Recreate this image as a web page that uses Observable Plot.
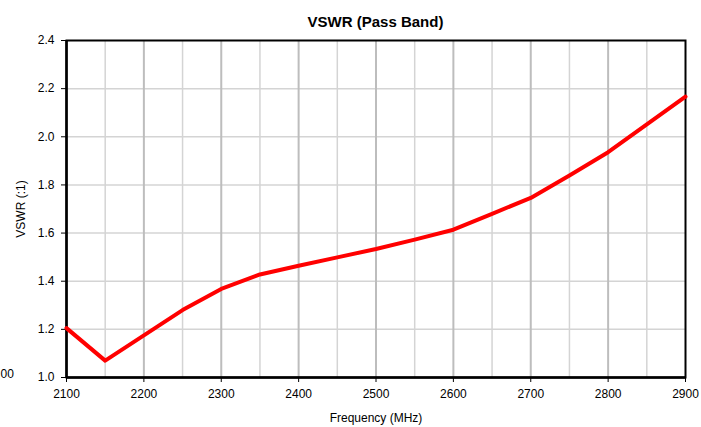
<!DOCTYPE html>
<html>
<head>
<meta charset="utf-8">
<script src="https://cdn.jsdelivr.net/npm/d3@7"></script>
<script src="https://cdn.jsdelivr.net/npm/@observablehq/plot@0.6"></script>
<style>
  html, body { margin: 0; padding: 0; background: #fff; }
  #title { box-sizing: border-box; height: 32px; padding-left: 66px; width: 685px; text-align: center;
           font: bold 15px "Liberation Sans", Arial, sans-serif; line-height: 44px; color: #000; overflow: visible; }
  svg { display: block; }
</style>
</head>
<body>
<div id="title">VSWR (Pass Band)</div>
<div id="chart"></div>
<script>
const freq = [2100, 2150, 2200, 2250, 2300, 2350, 2400, 2450, 2500, 2550, 2600, 2650, 2700, 2750, 2800, 2850, 2900];
const vswr = [1.205, 1.07, 1.175, 1.28, 1.368, 1.428, 1.464, 1.499, 1.534, 1.573, 1.614, 1.68, 1.746, 1.839, 1.936, 2.052, 2.167];
const xTicks = [2100, 2200, 2300, 2400, 2500, 2600, 2700, 2800, 2900];
const xMinor = [2150, 2250, 2350, 2450, 2550, 2650, 2750, 2850];
const yTicks = [1.0, 1.2, 1.4, 1.6, 1.8, 2.0, 2.2, 2.4];

const data = freq.map((f, i) => ({f, v: vswr[i]}));

const chart = Plot.plot({
  width: 701,
  height: 395,
  marginTop: 8,
  marginBottom: 50,
  marginLeft: 66,
  marginRight: 16,
  style: {fontFamily: '"Liberation Sans", Arial, sans-serif', fontSize: "12px", color: "#000", background: "#fff"},
  x: {domain: [2100, 2900], ticks: xTicks, tickFormat: d => String(d), tickSize: 5, tickPadding: 7,
      label: "Frequency (MHz)", labelArrow: "none", labelAnchor: "center", labelOffset: 44},
  y: {domain: [1.0, 2.4], ticks: yTicks, tickFormat: d3.format(".1f"), tickSize: 5, tickPadding: 7,
      label: "VSWR (:1)", labelArrow: "none", labelAnchor: "center", labelOffset: 50},
  marks: [
    Plot.ruleY(yTicks.slice(1, -1), {stroke: "#d4d4d4", strokeWidth: 1.5}),
    Plot.ruleX(xMinor, {stroke: "#d4d4d4", strokeWidth: 1.5}),
    Plot.ruleX(xTicks.slice(1, -1), {stroke: "#bdbdbd", strokeWidth: 2}),
    Plot.frame({stroke: "#000", strokeWidth: 2}),
    Plot.ruleX([2100], {stroke: "#000", strokeWidth: 2.5}),
    Plot.ruleY([1.0], {stroke: "#000", strokeWidth: 2.5}),
    Plot.line(data, {x: "f", y: "v", stroke: "#ff0000", strokeWidth: 4, strokeLinejoin: "round"}),
    Plot.text(["00"], {frameAnchor: "bottom-left", dx: -66, textAnchor: "start", fill: "#000"})
  ]
});
document.getElementById("chart").appendChild(chart);
</script>
</body>
</html>
